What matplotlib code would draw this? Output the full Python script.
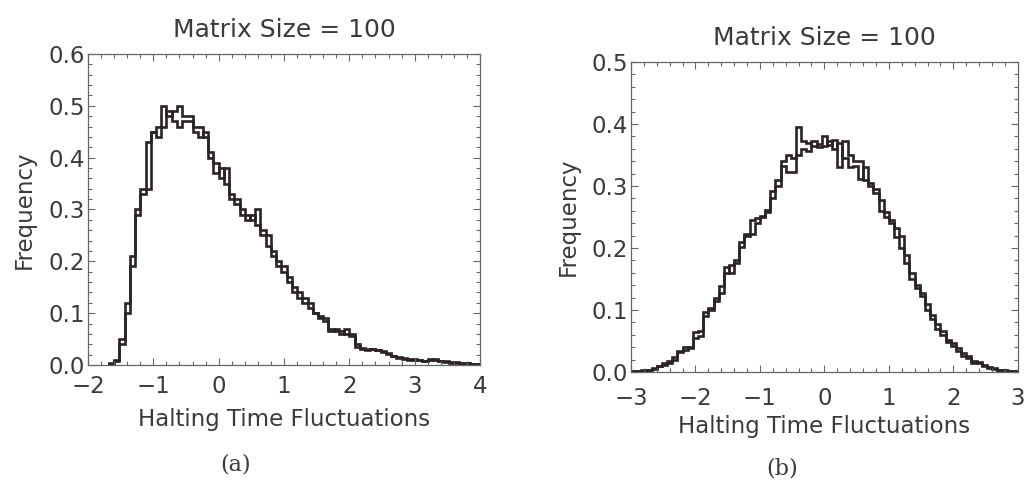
import numpy as np
import matplotlib
matplotlib.use("Agg")
import matplotlib.pyplot as plt
from matplotlib.ticker import MultipleLocator

# panel (a): bins of width 0.08 starting at -1.68
a_start, a_width = -1.68, 0.08
a_run1 = [0.003, 0.01, 0.04, 0.10, 0.19, 0.29, 0.33, 0.43, 0.45, 0.44,
          0.50, 0.48, 0.49, 0.50, 0.48, 0.48, 0.46, 0.46, 0.44, 0.40,
          0.37, 0.38, 0.35, 0.32, 0.31, 0.29, 0.28, 0.29, 0.27, 0.25,
          0.23, 0.21, 0.19, 0.18, 0.16, 0.15, 0.13, 0.13, 0.11, 0.10,
          0.095, 0.09, 0.07, 0.065, 0.06, 0.07, 0.055, 0.04, 0.03, 0.03,
          0.03, 0.028, 0.027, 0.022, 0.018, 0.015, 0.012, 0.011, 0.010, 0.009,
          0.008, 0.010, 0.012, 0.008, 0.006, 0.005, 0.004, 0.004, 0.003, 0.002,
          0.001]
a_run2 = [0.002, 0.008, 0.05, 0.12, 0.21, 0.30, 0.34, 0.34, 0.45, 0.46,
          0.46, 0.49, 0.47, 0.46, 0.47, 0.47, 0.45, 0.44, 0.45, 0.41,
          0.39, 0.36, 0.38, 0.33, 0.32, 0.30, 0.29, 0.28, 0.30, 0.26,
          0.25, 0.22, 0.20, 0.19, 0.17, 0.14, 0.14, 0.12, 0.12, 0.10,
          0.09, 0.085, 0.065, 0.07, 0.065, 0.06, 0.06, 0.035, 0.032, 0.028,
          0.031, 0.029, 0.025, 0.024, 0.017, 0.014, 0.013, 0.009, 0.011, 0.010,
          0.007, 0.012, 0.010, 0.007, 0.007, 0.004, 0.005, 0.003, 0.003, 0.001,
          0.001]

# panel (b): bins of width 0.08 starting at -3.0
b_start, b_width = -3.0, 0.08
b_run1 = [0.001, 0.002, 0.003, 0.004, 0.006, 0.009, 0.012, 0.018, 0.020, 0.034,
          0.036, 0.040, 0.065, 0.066, 0.090, 0.100, 0.120, 0.138, 0.160, 0.172,
          0.180, 0.210, 0.220, 0.245, 0.248, 0.252, 0.262, 0.280, 0.310, 0.340,
          0.350, 0.345, 0.395, 0.372, 0.370, 0.365, 0.368, 0.380, 0.366, 0.374,
          0.330, 0.372, 0.350, 0.340, 0.340, 0.310, 0.300, 0.295, 0.260, 0.258,
          0.245, 0.218, 0.200, 0.175, 0.150, 0.135, 0.122, 0.100, 0.092, 0.070,
          0.060, 0.052, 0.042, 0.034, 0.030, 0.022, 0.018, 0.014, 0.010, 0.008,
          0.005, 0.004, 0.003, 0.002, 0.002]
b_run2 = [0.001, 0.001, 0.002, 0.003, 0.005, 0.010, 0.014, 0.015, 0.024, 0.033,
          0.040, 0.038, 0.055, 0.058, 0.097, 0.104, 0.115, 0.128, 0.170, 0.160,
          0.176, 0.202, 0.223, 0.222, 0.240, 0.250, 0.258, 0.292, 0.300, 0.332,
          0.322, 0.322, 0.350, 0.360, 0.356, 0.372, 0.363, 0.365, 0.372, 0.360,
          0.370, 0.345, 0.330, 0.332, 0.312, 0.330, 0.305, 0.288, 0.278, 0.250,
          0.240, 0.232, 0.220, 0.188, 0.160, 0.140, 0.128, 0.110, 0.085, 0.078,
          0.066, 0.048, 0.046, 0.038, 0.025, 0.026, 0.015, 0.016, 0.011, 0.007,
          0.006, 0.003, 0.004, 0.002, 0.001]

line_col = '#2b2327'
text_col = '#3a3a3a'
frame_col = '#666666'

plt.rcParams['font.family'] = 'DejaVu Sans'
fig = plt.figure(figsize=(10.26, 4.8), dpi=100)

panels = [
    dict(rect=[0.0858, 0.2396, 0.382, 0.648], start=a_start, width=a_width,
         runs=(a_run1, a_run2), xlim=(-2, 4), ylim=(0, 0.6), xpad=7.5,
         xlab_y=-0.138, ylab_x=-0.133, cap='(a)', cap_xy=(236, 465)),
    dict(rect=[0.615, 0.225, 0.377, 0.646], start=b_start, width=b_width,
         runs=(b_run1, b_run2), xlim=(-3, 3), ylim=(0, 0.5), xpad=10.5,
         xlab_y=-0.14, ylab_x=-0.132, cap='(b)', cap_xy=(782, 469)),
]

for p in panels:
    ax = fig.add_axes(p['rect'])
    for run in p['runs']:
        edges = p['start'] + p['width'] * np.arange(len(run) + 1)
        ax.stairs(run, edges, color=line_col, linewidth=1.9, baseline=0)
    ax.set_xlim(*p['xlim'])
    ax.set_ylim(*p['ylim'])
    ax.xaxis.set_major_locator(MultipleLocator(1))
    ax.xaxis.set_minor_locator(MultipleLocator(0.2))
    ax.yaxis.set_major_locator(MultipleLocator(0.1))
    ax.yaxis.set_minor_locator(MultipleLocator(0.02))
    ax.yaxis.set_major_formatter(plt.FormatStrFormatter('%.1f'))
    ax.tick_params(which='both', direction='in', top=True, right=True,
                   color=frame_col, width=0.8, labelcolor=text_col, labelsize=16.5)
    ax.tick_params(which='major', length=5)
    ax.tick_params(which='minor', length=2.8)
    ax.tick_params(axis='y', pad=2)
    ax.tick_params(axis='x', pad=p['xpad'])
    for s in ax.spines.values():
        s.set_color(frame_col)
        s.set_linewidth(0.9)
    ax.set_title('Matrix Size = 100', fontsize=18, color=text_col, pad=12)
    ax.set_xlabel('Halting Time Fluctuations', fontsize=16.5, color=text_col)
    ax.set_ylabel('Frequency', fontsize=16.5, color=text_col)
    ax.xaxis.set_label_coords(0.5, p['xlab_y'])
    ax.yaxis.set_label_coords(p['ylab_x'], 0.5)
    cx, cy = p['cap_xy']
    fig.text(cx / 1026, 1 - cy / 480, p['cap'], family='DejaVu Serif',
             fontsize=16, color=text_col, ha='center', va='center')

fig.savefig('out.png', dpi=100)
